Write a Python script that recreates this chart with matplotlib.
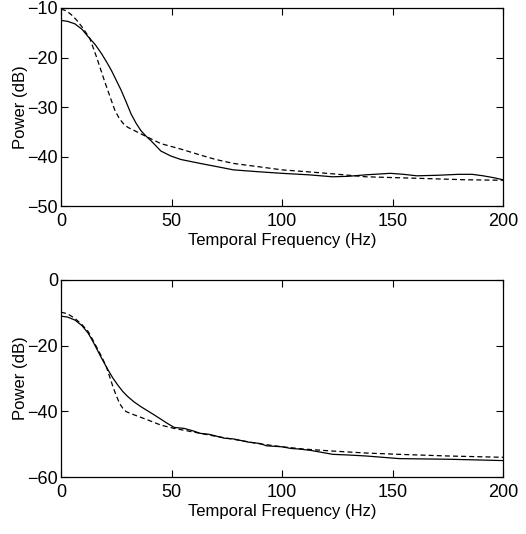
import matplotlib
matplotlib.use('Agg')
import matplotlib.pyplot as plt
import numpy as np

# Верхний график: частота (Гц) и мощность (дБ)
f_top_solid = [0, 3, 6.3, 9.5, 12.3, 15.5, 18.3, 20.5, 22.8, 25, 27.2, 29.5, 31.7, 34, 36.2,
               38.5, 40.7, 45.2, 49.7, 54.2, 63, 70, 78, 90, 100, 112, 123, 130, 138, 149,
               155, 161, 170, 180, 186, 191, 196, 200]
p_top_solid = [-12.5, -12.7, -13.2, -14.3, -15.8, -17.4, -19.2, -20.8, -22.6, -24.6, -26.6,
               -29.0, -31.4, -33.3, -34.8, -35.9, -36.8, -38.9, -39.9, -40.6, -41.4, -42.0,
               -42.7, -43.1, -43.4, -43.7, -44.1, -44.0, -43.7, -43.4, -43.6, -43.9, -43.8,
               -43.6, -43.6, -43.9, -44.3, -44.7]
f_top_dash = [0, 2.5, 4.8, 7, 9.3, 11, 13, 16, 19.8, 22.8, 24.5, 26.5, 28.3, 30.2, 34.7,
              39.2, 45.2, 54.2, 63, 70, 78, 90, 100, 112, 123, 138, 161, 183, 200]
p_top_dash = [-10.2, -10.6, -11.4, -12.4, -13.7, -14.8, -16.1, -19.8, -24.9, -28.7, -30.8,
              -32.4, -33.4, -34.1, -35.1, -36.1, -37.4, -38.5, -39.7, -40.6, -41.4, -42.1,
              -42.7, -43.1, -43.5, -44.1, -44.4, -44.7, -44.8]

# Нижний график
f_bot_solid = [0, 3, 6.3, 9.5, 12.3, 14.5, 16.8, 19, 21.3, 23.5, 25.7, 28, 30.2, 33,
               36.2, 42.2, 48.2, 51.2, 55.7, 60, 63, 67, 70, 74, 78, 85, 90, 93, 100, 104,
               108, 113, 118, 123, 130, 138, 153, 176, 200]
p_bot_solid = [-11.0, -11.3, -12.2, -13.9, -16.2, -18.8, -21.8, -24.6, -27.4, -29.9, -32.0,
               -34.0, -35.5, -37.1, -38.6, -41.1, -43.7, -44.9, -45.2, -46.0, -46.7, -47.0,
               -47.5, -48.2, -48.4, -49.4, -49.8, -50.5, -50.8, -51.3, -51.5, -51.9, -52.5,
               -53.1, -53.3, -53.6, -54.4, -54.6, -55.0]
f_bot_dash = [0, 3, 6.3, 9.5, 12.3, 14.5, 16.8, 18.7, 20.5, 22, 23.5, 25, 26.5, 28,
              29.5, 33.2, 39.2, 45.2, 51.2, 56, 63, 70, 78, 90, 100, 110, 123, 138, 153,
              175, 200]
p_bot_dash = [-9.8, -10.3, -11.7, -13.6, -15.7, -18.4, -21.3, -23.8, -26.4, -29.4, -32.5,
              -35.2, -37.6, -39.1, -40.1, -41.1, -42.6, -44.2, -45.2, -45.8, -46.7, -47.6,
              -48.5, -49.9, -50.8, -51.5, -52.1, -52.7, -53.1, -53.6, -54.0]

x_ticks = [0, 50, 100, 150, 200]
top_yticks = [-50, -40, -30, -20, -10]
bot_yticks = [-60, -40, -20, 0]

plt.rcParams['font.family'] = ['Liberation Sans', 'DejaVu Sans']
plt.rcParams['font.size'] = 12

fig = plt.figure(figsize=(5.26, 5.34), dpi=100)
W, H = 526, 534

def make_axes(top_px, bottom_px):
    return fig.add_axes([61 / W, 1 - bottom_px / H, (503 - 61) / W, (bottom_px - top_px) / H])

ax1 = make_axes(8, 206)
ax2 = make_axes(280, 477)

panels = [
    (ax1, f_top_solid, p_top_solid, f_top_dash, p_top_dash, (-50, -10), top_yticks),
    (ax2, f_bot_solid, p_bot_solid, f_bot_dash, p_bot_dash, (-60, 0), bot_yticks),
]

for ax, fs, ps, fd, pd, ylim, yt in panels:
    ax.plot(fs, ps, 'k-', linewidth=0.9)
    ax.plot(fd, pd, 'k--', linewidth=0.9, dashes=(4, 2.5))
    ax.set_xlim(0, 200)
    ax.set_ylim(*ylim)
    ax.set_xticks(x_ticks)
    ax.set_yticks(yt)
    ax.tick_params(direction='in', top=True, right=True, length=5, width=0.8,
                   labelsize=13)
    ax.tick_params(axis='x', pad=5)
    ax.tick_params(axis='y', pad=2)
    ax.set_yticklabels(['\u2212' + str(abs(v)) if v < 0 else str(v) for v in yt])
    ax.set_xlabel('Temporal Frequency (Hz)', fontsize=12, labelpad=2)
    ax.set_ylabel('Power (dB)', fontsize=12)
    ax.yaxis.set_label_coords(-0.075, 0.5)
    for s in ax.spines.values():
        s.set_linewidth(0.9)

plt.savefig('out.png', dpi=100)
